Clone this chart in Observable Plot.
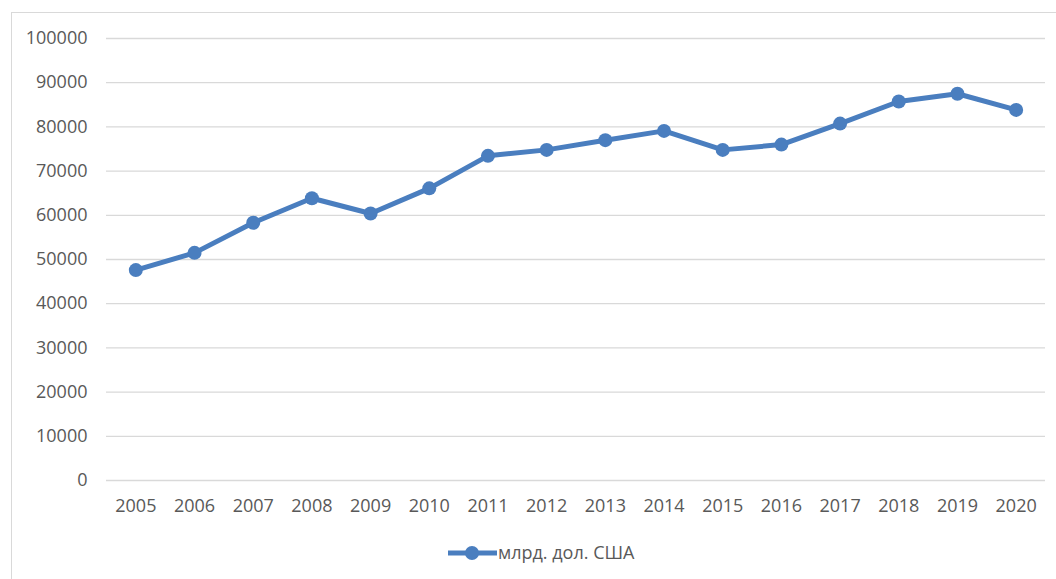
<!DOCTYPE html>
<html>
<head>
<meta charset="utf-8">
<script src="https://cdn.jsdelivr.net/npm/d3@7"></script>
<script src="https://cdn.jsdelivr.net/npm/@observablehq/plot@0.6"></script>
<style>
  html, body { margin: 0; padding: 0; background: #fff; }
  body { width: 1056px; height: 579px; position: relative; overflow: hidden; font-family: "Open Sans", sans-serif; }
  #frame { position: absolute; left: 11px; top: 12px; width: 1060px; height: 580px; border: 1px solid #d9d9d9; box-sizing: border-box; pointer-events: none; }
  #chart { position: absolute; left: 0; top: 0; }
  #legend { position: absolute; left: 0; top: 535px; width: 1056px; height: 44px; }
</style>
</head>
<body>
<div id="chart"></div>
<div id="legend"></div>
<div id="frame"></div>
<script>
const years = ["2005","2006","2007","2008","2009","2010","2011","2012","2013","2014","2015","2016","2017","2018","2019","2020"];
const values = [47600, 51500, 58300, 63850, 60400, 66100, 73450, 74800, 77000, 79100, 74800, 76000, 80750, 85750, 87500, 83850];
const yTicks = [0, 10000, 20000, 30000, 40000, 50000, 60000, 70000, 80000, 90000, 100000];
const seriesName = "млрд. дол. США";

const color = "#4a7ebf";
const data = years.map((y, i) => ({year: y, value: values[i]}));

const chart = Plot.plot({
  width: 1056,
  height: 535,
  marginLeft: 106,
  marginRight: 11,
  marginTop: 38,
  marginBottom: 55,
  style: {fontFamily: "'Open Sans', sans-serif", fontSize: "18px", color: "#595959", background: "transparent"},
  x: {type: "point", domain: years, padding: 0.5, round: false, label: null},
  y: {domain: [0, 100000], label: null},
  marks: [
    Plot.ruleY(yTicks, {stroke: "#d9d9d9", strokeWidth: 1.3, strokeOpacity: 1}),
    Plot.axisY({ticks: yTicks, tickSize: 0, tickPadding: 19, tickFormat: d => String(d), fill: "#595959", label: null}),
    Plot.axisX({tickSize: 0, tickPadding: 19, fill: "#595959", label: null}),
    Plot.line(data, {x: "year", y: "value", stroke: color, strokeWidth: 5, strokeLinejoin: "round"}),
    Plot.dot(data, {x: "year", y: "value", r: 7, fill: color, stroke: "none"})
  ]
});
document.getElementById("chart").appendChild(chart);

const legend = d3.select("#legend").append("svg").attr("width", 1056).attr("height", 44);
const g = legend.append("g").attr("transform", "translate(0,18)");
g.append("line").attr("x1", 448).attr("x2", 497).attr("y1", 0).attr("y2", 0).attr("stroke", color).attr("stroke-width", 5);
g.append("circle").attr("cx", 472).attr("cy", 0).attr("r", 7).attr("fill", color);
g.append("text").attr("x", 498).attr("y", 0).attr("dy", "0.35em").attr("fill", "#595959")
  .style("font-family", "'Open Sans', sans-serif").style("font-size", "18px").text(seriesName);
</script>
</body>
</html>
